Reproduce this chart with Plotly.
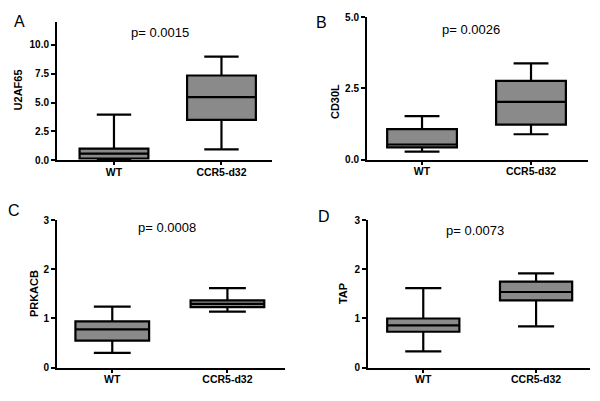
import plotly.graph_objects as go

groups = ["WT", "CCR5-d32"]

# Panel A: U2AF65
a_low = [0.05, 0.95]
a_q1 = [0.15, 3.5]
a_med = [0.58, 5.46]
a_q3 = [1.0, 7.34]
a_high = [3.95, 8.97]

# Panel B: CD30L
b_low = [0.28, 0.89]
b_q1 = [0.43, 1.23]
b_med = [0.53, 2.03]
b_q3 = [1.07, 2.77]
b_high = [1.53, 3.38]

# Panel C: PRKACB
c_low = [0.30, 1.14]
c_q1 = [0.55, 1.23]
c_med = [0.78, 1.30]
c_q3 = [0.94, 1.37]
c_high = [1.24, 1.62]

# Panel D: TAP
d_low = [0.33, 0.84]
d_q1 = [0.73, 1.37]
d_med = [0.86, 1.54]
d_q3 = [1.00, 1.75]
d_high = [1.62, 1.92]

panels = [
    ("A", "U2AF65", "p= 0.0015", a_low, a_q1, a_med, a_q3, a_high, [0, 12], [0, 2.5, 5, 7.5, 10], ".1f"),
    ("B", "CD30L", "p= 0.0026", b_low, b_q1, b_med, b_q3, b_high, [0, 5], [0, 2.5, 5], ".1f"),
    ("C", "PRKACB", "p= 0.0008", c_low, c_q1, c_med, c_q3, c_high, [0, 3], [0, 1, 2, 3], "d"),
    ("D", "TAP", "p= 0.0073", d_low, d_q1, d_med, d_q3, d_high, [0, 3], [0, 1, 2, 3], "d"),
]

W, H = 600, 401


def px(x):
    return x / W


def py(y):
    return 1 - y / H


# pixel layout (left, right, bottom, top)
xdomains = [[px(57), px(272)], [px(367), px(588)], [px(57), px(285)], [px(368), px(590)]]
ydomains = [[py(159), py(16.2)], [py(158.3), py(11.7)], [py(372.7), py(221)], [py(372.7), py(221)]]
xranges = [[-0.53, 1.47], [-0.505, 1.523], [-0.48, 1.50], [-0.49, 1.478]]
letter_pos = [(19, 15.5), (321, 17), (14, 211), (324, 217)]
ptext_pos = [(160, 27), (471, 24), (167, 228), (475, 231)]
ytitle_pos = [(18, 87), (335, 99), (34, 297), (343, 297)]

FONT = "Arial, Liberation Sans, sans-serif"

fig = go.Figure()
annotations = []
for i, (letter, ytitle, ptxt, lo, q1, med, q3, hi, yr, tv, fmt) in enumerate(panels):
    n = "" if i == 0 else str(i + 1)
    fig.add_trace(go.Box(
        x=groups, lowerfence=lo, q1=q1, median=med, q3=q3, upperfence=hi,
        xaxis="x" + n, yaxis="y" + n,
        fillcolor="#8a8a8a", line=dict(color="black", width=2.2),
        width=0.64, whiskerwidth=0.5, boxpoints=False, showlegend=False,
        hoverinfo="skip",
    ))
    fig.update_layout(**{
        "xaxis" + n: dict(
            domain=xdomains[i], range=xranges[i], anchor="y" + n,
            showline=True, linecolor="black", linewidth=2,
            ticks="outside", ticklen=3, tickwidth=1.5, tickcolor="black",
            ticklabelstandoff=-2,
            showgrid=False, zeroline=False, fixedrange=True,
            tickfont=dict(family=FONT, size=10.5, color="black", weight="bold"),
            type="category",
        ),
        "yaxis" + n: dict(
            domain=ydomains[i], range=yr, anchor="x" + n,
            showline=True, linecolor="black", linewidth=2,
            ticks="outside", ticklen=4, tickwidth=1.5, tickcolor="black",
            tickvals=tv, tickformat=fmt,
            showgrid=False, zeroline=False, fixedrange=True,
            tickfont=dict(family=FONT, size=10, color="black", weight="bold"),
        ),
    })
    annotations.append(dict(
        text=letter, x=px(letter_pos[i][0]), y=py(letter_pos[i][1]), xref="paper", yref="paper",
        showarrow=False, font=dict(family=FONT, size=16, color="black"),
        xanchor="center", yanchor="middle",
    ))
    annotations.append(dict(
        text=ptxt, x=px(ptext_pos[i][0]), y=py(ptext_pos[i][1]), xref="paper", yref="paper",
        showarrow=False, font=dict(family=FONT, size=13, color="black"),
        xanchor="center", yanchor="middle",
    ))
    annotations.append(dict(
        text=ytitle, x=px(ytitle_pos[i][0]), y=py(ytitle_pos[i][1]),
        xref="paper", yref="paper", textangle=-90,
        showarrow=False, font=dict(family=FONT, size=11, color="black", weight="bold"),
        xanchor="center", yanchor="middle",
    ))

fig.update_layout(
    width=W, height=H,
    margin=dict(l=0, r=0, t=0, b=0, pad=0),
    paper_bgcolor="white", plot_bgcolor="white",
    annotations=annotations,
    showlegend=False,
)

fig.write_html(
    "out.html",
    config={"displayModeBar": False},
    post_script="document.body.style.margin='0';",
)
